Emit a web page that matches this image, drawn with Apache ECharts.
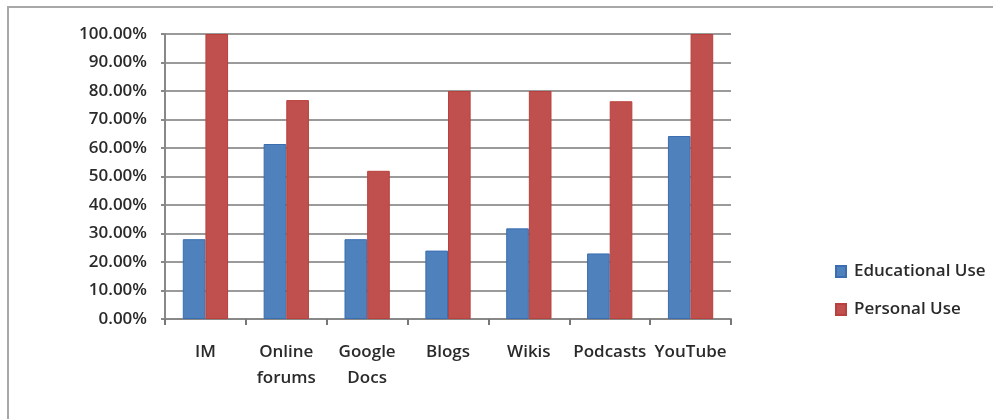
<!DOCTYPE html>
<html>
<head>
<meta charset="utf-8">
<script src="https://cdn.jsdelivr.net/npm/echarts@6/dist/echarts.min.js"></script>
<style>html,body{margin:0;padding:0;background:#fff}#c{width:993px;height:419px}</style>
</head>
<body>
<div id="c"></div>
<script>
const categories = ['IM', 'Online\nforums', 'Google\nDocs', 'Blogs', 'Wikis', 'Podcasts', 'YouTube'];
const educationalUse = [0.28, 0.614, 0.28, 0.24, 0.318, 0.23, 0.642];
const personalUse = [1.0, 0.768, 0.52, 0.80, 0.80, 0.764, 1.0];
const seriesNames = ['Educational Use', 'Personal Use'];

const font = 'Open Sans';
const chart = echarts.init(document.getElementById('c'));
chart.setOption({
  animation: false,
  backgroundColor: '#fff',
  graphic: [
    {type: 'line', shape: {x1: 7, y1: 7, x2: 993, y2: 7}, style: {stroke: '#a8a8a8', lineWidth: 2}},
    {type: 'line', shape: {x1: 8, y1: 7, x2: 8, y2: 419}, style: {stroke: '#a8a8a8', lineWidth: 2}}
  ],
  grid: {left: 165, right: 262, top: 34, bottom: 100},
  legend: {
    orient: 'vertical', left: 830, top: 257,
    itemWidth: 10, itemHeight: 11, itemGap: 19,
    icon: 'rect',
    textStyle: {fontFamily: font, fontSize: 17, fontWeight: 600, color: '#2a2a2a', lineHeight: 19, padding: [0, 0, 0, 3]},
    data: seriesNames
  },
  xAxis: {
    type: 'category', data: categories,
    axisLine: {lineStyle: {color: '#888', width: 2}},
    axisTick: {show: true, length: 6, lineStyle: {color: '#777', width: 2}},
    axisLabel: {fontFamily: font, fontSize: 17, fontWeight: 600, color: '#2a2a2a', margin: 20, lineHeight: 26, interval: 0}
  },
  yAxis: {
    type: 'value', min: 0, max: 1, interval: 0.1,
    axisLine: {show: true, lineStyle: {color: '#888', width: 2}},
    axisTick: {show: true, length: 4, lineStyle: {color: '#888', width: 2}},
    splitLine: {lineStyle: {color: '#9a9a9a', width: 2}},
    axisLabel: {fontFamily: font, fontSize: 17, fontWeight: 600, color: '#2a2a2a', margin: 18,
      formatter: v => (v * 100).toFixed(2) + '%'}
  },
  series: [
    {name: seriesNames[0], type: 'bar', data: educationalUse, barGap: '0%', barCategoryGap: '44%',
     itemStyle: {color: '#4F81BD', borderColor: '#3a6eb0', borderWidth: 1}},
    {name: seriesNames[1], type: 'bar', data: personalUse, barGap: '0%', barCategoryGap: '44%',
     itemStyle: {color: '#C0504D', borderColor: '#b8403d', borderWidth: 1}}
  ]
});
</script>
</body>
</html>
